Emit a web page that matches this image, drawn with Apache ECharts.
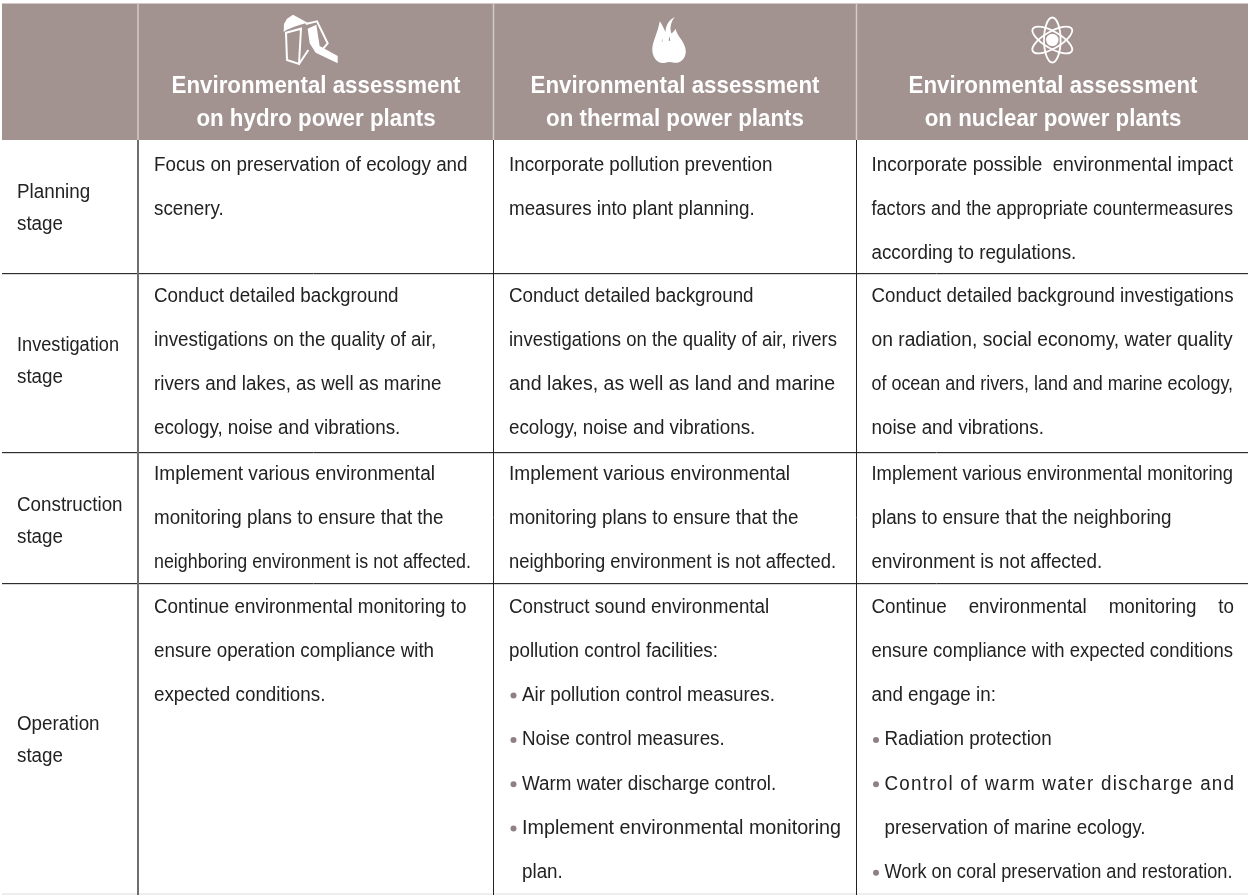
<!DOCTYPE html>
<html>
<head>
<meta charset="utf-8">
<title>Environmental assessment on power plants</title>
<style>
  html, body { margin: 0; padding: 0; background: #fff; }
  #chart { width: 1248px; height: 895px; }
</style>
<script src="https://cdn.jsdelivr.net/npm/echarts@6.0.0/dist/echarts.min.js"></script>
</head>
<body>
<div id="chart"></div>
<script>
const headerLines = [
  ["Environmental assessment", "on hydro power plants"],
  ["Environmental assessment", "on thermal power plants"],
  ["Environmental assessment", "on nuclear power plants"],
];
const stageLabels = [
  ["Planning", "stage"],
  ["Investigation", "stage"],
  ["Construction", "stage"],
  ["Operation", "stage"],
];
const hydroLines = [
  ["Focus on preservation of ecology and", "scenery."],
  ["Conduct detailed background", "investigations on the quality of air,", "rivers and lakes, as well as marine", "ecology, noise and vibrations."],
  ["Implement various environmental", "monitoring plans to ensure that the", "neighboring environment is not affected."],
  ["Continue environmental monitoring to", "ensure operation compliance with", "expected conditions."],
];
const thermalLines = [
  ["Incorporate pollution prevention", "measures into plant planning."],
  ["Conduct detailed background", "investigations on the quality of air, rivers", "and lakes, as well as land and marine", "ecology, noise and vibrations."],
  ["Implement various environmental", "monitoring plans to ensure that the", "neighboring environment is not affected."],
  ["Construct sound environmental", "pollution control facilities:", "*Air pollution control measures.", "*Noise control measures.", "*Warm water discharge control.", "*Implement environmental monitoring", ">plan."],
];
const nuclearLines = [
  ["Incorporate possible  environmental impact", "factors and the appropriate countermeasures", "according to regulations."],
  ["Conduct detailed background investigations", "on radiation, social economy, water quality", "of ocean and rivers, land and marine ecology,", "noise and vibrations."],
  ["Implement various environmental monitoring", "plans to ensure that the neighboring", "environment is not affected."],
  ["Continue environmental monitoring to", "ensure compliance with expected conditions", "and engage in:", "*Radiation protection", "*Control of warm water discharge and", ">preservation of marine ecology.", "*Work on coral preservation and restoration."],
];
// these two nuclear lines are justified in the original
const spreadWords = ["Continue environmental monitoring to"];
const spreadChars = ["Control of warm water discharge and"];

// layout, in page pixels
const colEdges = [2, 138, 493.5, 856.5, 1248];
const rowEdges = [3.5, 140, 273.5, 452.5, 583.5, 893];
const textLeft = [17, 154, 509, 871.5];
const textRight = 1234;
const bodyTop = [165, 296, 474, 607];
const stageTop = [192, 345, 505, 724];
const headerCenter = [316, 675, 1053];
const BODY_STEP = 44.3;
const STAGE_STEP = 32;
const FONT = '"Liberation Sans", Arial, sans-serif';
const BODY_SIZE = 20;
const BODY_SCALE = 0.94;
const HEAD_SCALE = 0.97;

// the original squeezes or stretches some lines to fit the cell, widths in px
const lineWidths = {
  "Investigation": 102,
  "0:neighboring environment is not affected.": 317,
  "0:Implement various environmental": 281,
  "1:investigations on the quality of air, rivers": 328,
  "1:and lakes, as well as land and marine": 326,
  "1:Implement various environmental": 281,
  "1:neighboring environment is not affected.": 327,
  "1:Implement environmental monitoring": 319,
  "2:Incorporate possible  environmental impact": 361.5,
  "2:factors and the appropriate countermeasures": 361.5,
  "2:Conduct detailed background investigations": 362,
  "2:on radiation, social economy, water quality": 361,
  "2:of ocean and rivers, land and marine ecology,": 361.5,
  "2:Implement various environmental monitoring": 361.5,
  "2:ensure compliance with expected conditions": 361.5,
  "2:Work on coral preservation and restoration.": 348,
};

const HEAD_COLOR = "#a29391";
const TEXT_COLOR = "#222222";
const BULLET_COLOR = "#8f8083";

const measureCtx = document.createElement("canvas").getContext("2d");

function textWidth(text, font) {
  measureCtx.font = font;
  return measureCtx.measureText(text).width;
}

function bodyText(text, x, y, width) {
  const font = `${BODY_SIZE}px ${FONT}`;
  return {
    type: "text",
    x,
    y,
    scaleX: width ? width / textWidth(text, font) : BODY_SCALE,
    silent: true,
    style: { text, x: 0, y: 0, fill: TEXT_COLOR, font, verticalAlign: "middle", align: "left" },
  };
}

function spreadText(text, x, y, right, parts) {
  const font = `${BODY_SIZE}px ${FONT}`;
  const pieces = parts === "chars" ? text.split("") : text.split(" ");
  const used = pieces.reduce((sum, piece) => sum + textWidth(piece, font), 0);
  const gap = ((right - x) / BODY_SCALE - used) / (pieces.length - 1);
  let cursor = x;
  return pieces.map((piece) => {
    const item = bodyText(piece, cursor, y);
    cursor += (textWidth(piece, font) + gap) * BODY_SCALE;
    return item;
  });
}

function renderLines(lines, left, top, col, api) {
  const out = [];
  lines.forEach((raw, index) => {
    const bullet = raw[0] === "*";
    const hang = raw[0] === ">";
    const text = bullet || hang ? raw.slice(1) : raw;
    const [x0, y] = api.coord([left, top + index * BODY_STEP]);
    const x = bullet || hang ? x0 + 13 : x0;
    if (bullet) {
      out.push({
        type: "circle",
        silent: true,
        shape: { cx: x0 + 4.5, cy: y, r: 3 },
        style: { fill: BULLET_COLOR },
      });
    }
    if (col === 2 && spreadWords.includes(text)) {
      out.push(...spreadText(text, x, y, textRight, "words"));
    } else if (col === 2 && spreadChars.includes(text)) {
      out.push(...spreadText(text, x, y, textRight, "chars"));
    } else {
      out.push(bodyText(text, x, y, lineWidths[`${col}:${text}`]));
    }
  });
  return out;
}

// icons were traced in a 3x crop, so they get scaled down around their own origin
function hydroIcon(cx, cy) {
  const white = { fill: "#fff" };
  const outline = { fill: "none", stroke: "#fff", lineWidth: 2 };
  const sx = cx - 34;
  const sy = cy - 30;
  const pt = (list) => list.map(([a, b]) => [sx + a / 3, sy + b / 3]);
  return {
    type: "group",
    silent: true,
    children: [
      { type: "polygon", shape: { points: pt([[26, 66], [27, 42], [36, 26], [54, 14], [98, 38], [76, 44], [58, 50], [34, 60]]) }, style: white },
      { type: "polygon", shape: { points: pt([[33, 68], [78, 56], [72, 162], [36, 150]]) }, style: outline },
      { type: "polyline", shape: { points: pt([[72, 162], [100, 120]]) }, style: outline },
      { type: "polyline", shape: { points: pt([[92, 42], [126, 34], [158, 100], [134, 128]]) }, style: outline },
      { type: "polygon", shape: { points: pt([[98, 56], [124, 44], [134, 108], [188, 138], [188, 160], [122, 128], [104, 100]]) }, style: white },
    ],
  };
}

function thermalIcon(cx, cy) {
  return {
    type: "group",
    silent: true,
    children: [
      {
        type: "path",
        shape: {
          pathData:
            "M60 155C38 160 20 140 22 112C24 90 36 72 44 34C50 44 56 54 60 66C62 46 70 30 88 22C76 36 72 54 78 70C84 64 88 60 90 56C94 78 120 96 120 122C120 142 104 158 86 155C76 153 70 152 60 155Z",
          x: cx - 15.7,
          y: cy - 23,
          width: 33.5,
          height: 46,
          layout: "cover",
        },
        style: { fill: "#fff" },
      },
      {
        type: "polygon",
        shape: { points: [[cx + 0.5, cy + 0.5], [cx + 1.8, cy - 4], [cx + 2.2, cy + 1]] },
        style: { fill: HEAD_COLOR },
      },
      {
        type: "polygon",
        shape: { points: [[cx - 6.5, cy + 2], [cx - 5.5, cy - 2], [cx - 5, cy + 2]] },
        style: { fill: "#d8d2d0" },
      },
    ],
  };
}

function nuclearIcon(cx, cy) {
  const orbit = (rotation) => ({
    type: "ellipse",
    x: cx,
    y: cy,
    rotation,
    shape: { cx: 0, cy: 0, rx: 8.3, ry: 22.5 },
    style: { fill: "none", stroke: "#fff", lineWidth: 1.8 },
  });
  return {
    type: "group",
    silent: true,
    children: [
      orbit(0),
      orbit(Math.PI / 3),
      orbit(-Math.PI / 3),
      { type: "circle", shape: { cx, cy, r: 6.2 }, style: { fill: "#fff" } },
    ],
  };
}

const iconCenters = [[309, 40], [668, 40], [1052.3, 40]];
const iconMakers = [hydroIcon, thermalIcon, nuclearIcon];
const bodyColumns = [hydroLines, thermalLines, nuclearLines];

function vLine(x, y1, y2, color, width) {
  return { type: "line", silent: true, shape: { x1: x, y1, x2: x, y2 }, style: { stroke: color, lineWidth: width } };
}

function hLine(y, x1, x2, color, width) {
  return { type: "line", silent: true, shape: { x1, y1: y, x2, y2: y }, style: { stroke: color, lineWidth: width } };
}

function renderTable(params, api) {
  const corner = (c, r) => api.coord([colEdges[c], rowEdges[r]]);
  const children = [];
  const [left, top] = corner(0, 0);
  const [right, headBottom] = corner(4, 1);
  children.push({
    type: "rect",
    silent: true,
    shape: { x: left, y: top, width: right - left, height: headBottom - top },
    style: { fill: HEAD_COLOR },
  });

  const [, bottom] = corner(0, 5);
  const ruleColors = ["#6f6f6f", "#222222", "#222222"];
  const ruleWidths = [2, 1, 1];
  [2, 3, 4].forEach((r) => {
    const [, y] = corner(0, r);
    children.push(hLine(y + 1, left, right, "#d8d8d8", 1));
    children.push(hLine(y, left, right, "#2e2e2e", 1));
  });
  children.push(hLine(bottom + 1, left, right, "#eeeeee", 2));
  [1, 2, 3].forEach((c, i) => {
    const [x] = corner(c, 0);
    children.push(vLine(x, top, headBottom, "#d2cbc9", 1.5));
    children.push(vLine(x, headBottom, bottom + 2, ruleColors[i], ruleWidths[i]));
  });

  headerLines.forEach((lines, c) => {
    lines.forEach((text, i) => {
      const [x, y] = api.coord([headerCenter[c], 87 + i * 33]);
      children.push({
        type: "text",
        silent: true,
        x,
        y,
        scaleX: HEAD_SCALE,
        style: { text, x: 0, y: 0, fill: "#fff", font: `bold 23px ${FONT}`, align: "center", verticalAlign: "middle" },
      });
    });
    const [ix, iy] = api.coord(iconCenters[c]);
    children.push(iconMakers[c](ix, iy));
  });

  stageLabels.forEach((lines, r) => {
    lines.forEach((text, i) => {
      const [x, y] = api.coord([textLeft[0], stageTop[r] + i * STAGE_STEP]);
      children.push(bodyText(text, x, y, lineWidths[text]));
    });
    bodyColumns.forEach((column, c) => {
      children.push(...renderLines(column[r], textLeft[c + 1], bodyTop[r], c, api));
    });
  });

  return { type: "group", children };
}

const chart = echarts.init(document.getElementById("chart"), null, { renderer: "canvas" });
chart.setOption({
  animation: false,
  backgroundColor: "#fff",
  grid: { left: 0, right: 0, top: 0, bottom: 0 },
  xAxis: { type: "value", min: 0, max: 1248, show: false },
  yAxis: { type: "value", min: 0, max: 895, inverse: true, show: false },
  series: [
    {
      type: "custom",
      coordinateSystem: "cartesian2d",
      clip: false,
      silent: true,
      renderItem: renderTable,
      data: [[0, 0]],
    },
  ],
});
window.addEventListener("resize", () => chart.resize());
</script>
</body>
</html>
